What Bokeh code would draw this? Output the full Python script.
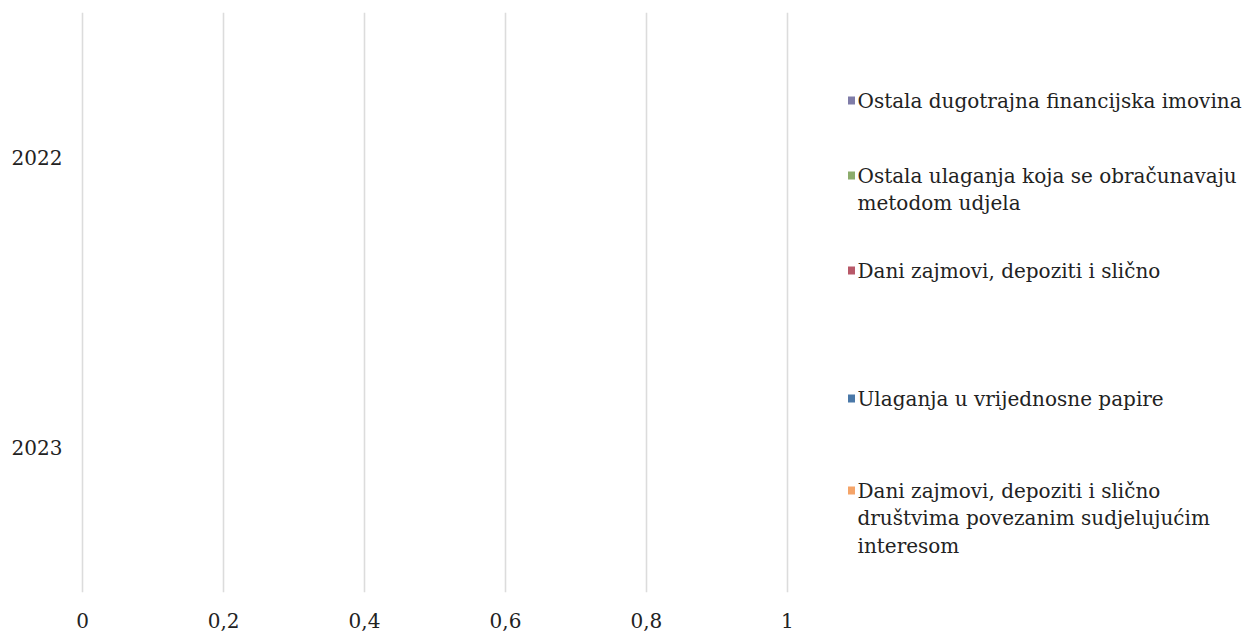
from bokeh.plotting import figure
from bokeh.layouts import row
from bokeh.models import Range1d, FactorRange, FixedTicker, CustomJSTickFormatter, ColumnDataSource
from bokeh.core.properties import value
from bokeh.embed import file_html
from bokeh.resources import INLINE

# ---- data ----
years = ["2022", "2023"]
series_names = [
    "Dani zajmovi, depoziti i slično\ndruštvima povezanim sudjelujućim\ninteresom",
    "Ulaganja u vrijednosne papire",
    "Dani zajmovi, depoziti i slično",
    "Ostala ulaganja koja se obračunavaju\nmetodom udjela",
    "Ostala dugotrajna financijska imovina",
]
dani_zajmovi_povezanim = [0, 0]
ulaganja_vrijednosne = [0, 0]
dani_zajmovi = [0, 0]
ostala_ulaganja = [0, 0]
ostala_dugotrajna = [0, 0]
series_values = [dani_zajmovi_povezanim, ulaganja_vrijednosne, dani_zajmovi,
                 ostala_ulaganja, ostala_dugotrajna]
series_colors = ["#f5a468", "#4a78a8", "#b85868", "#8cac6c", "#7f7ca8"]
x_ticks = [0, 0.2, 0.4, 0.6, 0.8, 1.0]

FONT = "DejaVu Serif"
FS = "20px"
TXT = "#222222"

H = 634
TOP, BOTTOM = 12, 592

# ---- main chart ----
keys = ["s%d" % i for i in range(len(series_values))]
data = {"year": years}
for k, v in zip(keys, series_values):
    data[k] = v
src = ColumnDataSource(data)

p = figure(width=828, height=H, output_backend="svg", toolbar_location=None,
           x_range=Range1d(-0.003, 1.003), y_range=FactorRange(*list(reversed(years))),
           min_border_left=80, min_border_right=39, min_border_top=TOP, min_border_bottom=H - BOTTOM)
p.hbar_stack(keys, y="year", height=0.5, color=series_colors, source=src, line_color=None)

p.outline_line_color = None
p.background_fill_color = "white"
p.border_fill_color = "white"
p.ygrid.grid_line_color = None
p.xgrid.grid_line_color = "#dcdcdc"
p.xgrid.grid_line_width = 1.6
p.xaxis.ticker = FixedTicker(ticks=x_ticks)
p.xaxis.formatter = CustomJSTickFormatter(code="return String(Math.round(tick*10)/10).replace('.', ',');")
for ax in (p.xaxis[0], p.yaxis[0]):
    ax.axis_line_color = None
    ax.major_tick_line_color = None
    ax.minor_tick_line_color = None
    ax.major_tick_out = 0
    ax.major_tick_in = 0
    ax.major_label_text_font = FONT
    ax.major_label_text_font_size = FS
    ax.major_label_text_color = TXT
p.xaxis.major_label_standoff = 20
p.yaxis.major_label_standoff = 18

# ---- legend panel ----
LW = 420
lg = figure(width=LW, height=H, output_backend="svg", toolbar_location=None,
            x_range=Range1d(0, LW), y_range=Range1d(BOTTOM, TOP),
            min_border=0, min_border_top=TOP, min_border_bottom=H - BOTTOM,
            x_axis_location=None, y_axis_location=None)
lg.outline_line_color = None
lg.grid.grid_line_color = None

entry_tops = [490, 398, 270, 175, 100]  # first-line centre of each entry (layout)
line_gap = 27.5
sq_y = []
txt, ln_x, ln_y = [], [], []
for name, top in zip(series_names, entry_tops):
    sq_y.append(top)
    for j, line in enumerate(name.split("\n")):
        txt.append(line)
        ln_y.append(top + j * line_gap)
        ln_x.append(29)
lg.rect(x=[23] * len(series_names), y=sq_y, width=7, height=8, color=series_colors, line_color=None)
lg.text(x=ln_x, y=ln_y, text=txt, text_font=value(FONT), text_font_size=FS,
        text_color=TXT, text_baseline="middle", text_align="left")

layout = row(p, lg)
open("out.html", "w").write(file_html(layout, INLINE))
